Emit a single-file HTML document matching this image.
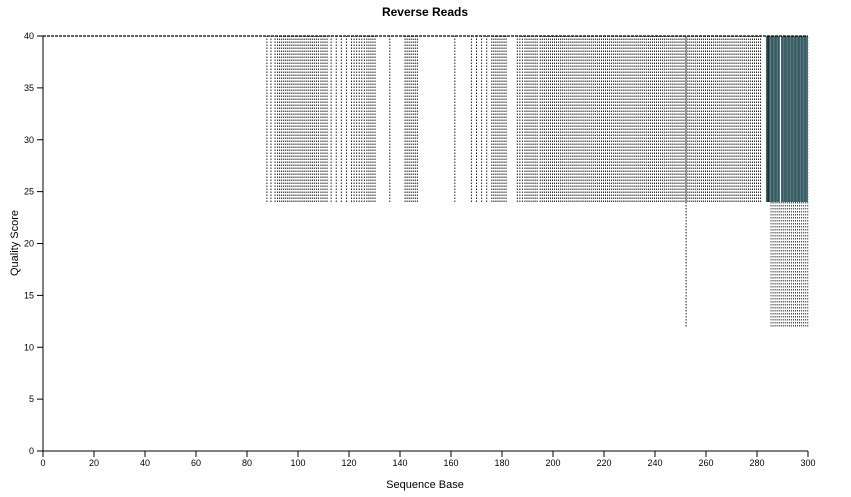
<!DOCTYPE html><html><head><style>body{margin:0;background:#fff}svg{display:block;font-family:"Liberation Sans",sans-serif}</style></head><body>
<svg id="s" width="851" height="497" xmlns="http://www.w3.org/2000/svg">
<text x="425" y="16" text-anchor="middle" font-size="12" font-weight="bold">Reverse Reads</text>
<text x="425" y="488" text-anchor="middle" font-size="11">Sequence Base</text>
<text transform="translate(18,243) rotate(-90)" text-anchor="middle" font-size="11">Quality Score</text>
<g id="d"></g>
<g id="ax" font-size="9" fill="#000"></g>
</svg>
<script>
const X=b=>43+b*2.55, Y=v=>451-v*10.375;
let h='';
const add=(b,lo,c)=>{h+=`<line x1="${X(b)}" x2="${X(b)}" y1="${Y(lo)}" y2="${Y(40)}" stroke="${c||'#222'}" stroke-width="1" stroke-dasharray="1.5,1.5"/>`;};
const bs=[87.8,89.4,91,109,109.8,110.6,111.4,113,115,117,119,130.2,136,161.5,168,170,172,174,186,187,188];
bs.forEach(b=>add(b,24));
const rng=(a,z,s)=>{for(let b=a;b<=z;b+=s)add(b,24)};
rng(92,108,0.8);rng(121,126,1);rng(127,129.5,0.8);rng(142,147,0.8);rng(176,182,0.8);rng(189,194,0.8);rng(195,282,0.8);
add(252.2,12);
for(let b=285.5;b<=300;b+=0.8)add(b,12,'#444');
h+=`<rect x="${X(283.5)}" y="${Y(40)}" width="${X(300)-X(283.5)}" height="${Y(24)-Y(40)}" fill="#3d5b63"/>`;
for(let b=284;b<=300;b+=1.3)h+=`<line x1="${X(b)}" x2="${X(b)}" y1="${Y(24)}" y2="${Y(40)}" stroke="#5a8a90" stroke-width="0.8"/>`;
h+=`<line x1="${X(284.3)}" x2="${X(284.3)}" y1="${Y(24)}" y2="${Y(40)}" stroke="#000" stroke-width="1"/>`;
h+=`<line x1="${X(289.2)}" x2="${X(289.2)}" y1="${Y(24)}" y2="${Y(40)}" stroke="#fff" stroke-width="1.2"/>`;
h+=`<line x1="43" x2="808" y1="${Y(40)}" y2="${Y(40)}" stroke="#000" stroke-width="1.2" stroke-dasharray="3,1"/>`;
document.getElementById('d').innerHTML=h;
let a=`<line x1="43" x2="43" y1="36" y2="451" stroke="#000"/><line x1="43" x2="808" y1="451" y2="451" stroke="#000"/>`;
for(let v=0;v<=300;v+=20)a+=`<line x1="${X(v)}" x2="${X(v)}" y1="451" y2="457" stroke="#000"/><text x="${X(v)}" y="466" text-anchor="middle">${v}</text>`;
for(let v=0;v<=40;v+=5)a+=`<line x1="37" x2="43" y1="${Y(v)}" y2="${Y(v)}" stroke="#000"/><text x="34" y="${Y(v)+3}" text-anchor="end">${v}</text>`;
document.getElementById('ax').innerHTML=a;
</script></body></html>
